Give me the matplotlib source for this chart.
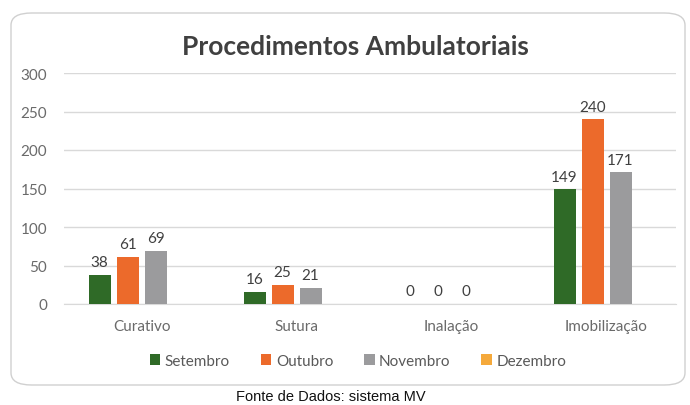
import numpy as np
import matplotlib
matplotlib.use('Agg')
import matplotlib.pyplot as plt
from matplotlib.patches import FancyBboxPatch

# Dados do gráfico
categorias = ['Curativo', 'Sutura', 'Inalação', 'Imobilização']
meses = ['Setembro', 'Outubro', 'Novembro', 'Dezembro']
setembro = [38, 16, 0, 149]
outubro = [61, 25, 0, 240]
novembro = [69, 21, 0, 171]
dezembro = [np.nan, np.nan, np.nan, np.nan]  # sem dados
cores = ['#2F6A27', '#EC6A2B', '#9B9B9D', '#F5A93B']
yticks = [0, 50, 100, 150, 200, 250, 300]

plt.rcParams['font.family'] = ['Lato', 'DejaVu Sans']

W, H = 690, 406
fig = plt.figure(figsize=(W / 100, H / 100), dpi=100)

# moldura arredondada do gráfico
frame = FancyBboxPatch((11 / W, 1 - 386 / H), 674 / W, 372 / H,
                       boxstyle='round,pad=0,rounding_size=0.03',
                       transform=fig.transFigure, facecolor='white',
                       edgecolor='#D0D0D0', linewidth=1.0, zorder=-1)
fig.patches.append(frame)

# eixo posicionado em pixels
x0, x1 = 64, 676
ytop, ybot = 74, 305
ax = fig.add_axes([x0 / W, 1 - ybot / H, (x1 - x0) / W, (ybot - ytop) / H])
ax.set_facecolor('none')
ax.set_zorder(2)

pitch = 155.0
ax.set_xlim(-0.5, -0.5 + (x1 - x0) / pitch)
ax.set_ylim(0, 300)

x = np.arange(len(categorias))
larg = 22 / pitch
passo = 28 / pitch
series = [setembro, outubro, novembro, dezembro]
for i, (vals, nome, cor) in enumerate(zip(series, meses, cores)):
    pos = x + (i - 1.5) * passo
    ax.bar(pos, vals, width=larg, color=cor, label=nome, zorder=3)
    for xp, v in zip(pos, vals):
        if np.isnan(v):
            continue
        ax.annotate(f'{int(v)}', (xp, v), xytext=(0, 4), textcoords='offset points',
                    ha='center', va='bottom', fontsize=11, color='#404040')

ax.set_yticks(yticks)
ax.set_xticks(x)
ax.set_xticklabels(categorias)
ax.tick_params(axis='both', length=0, labelsize=11, labelcolor='#6A6A6A')
ax.tick_params(axis='x', pad=11)
ax.tick_params(axis='y', pad=12)
ax.grid(axis='y', color='#D9D9D9', linewidth=1.0, zorder=0)
for s in ['top', 'right', 'left']:
    ax.spines[s].set_visible(False)
ax.spines['bottom'].set_color('#D9D9D9')

fig.text(355 / W, 1 - 47 / H, 'Procedimentos Ambulatoriais', ha='center', va='center',
         fontsize=19, fontweight='bold', color='#404040')

fig.legend(loc='center', bbox_to_anchor=(358 / W, 1 - 362 / H), ncol=4, frameon=False,
           fontsize=11, handlelength=0.7, handleheight=0.7, handletextpad=0.3,
           columnspacing=2.0, labelcolor='#595959')

fig.text(331 / W, 1 - 397 / H, 'Fonte de Dados: sistema MV', ha='center', va='center',
         fontsize=10.5, color='#111111', family='Liberation Sans')

fig.savefig('out.png', dpi=100)
